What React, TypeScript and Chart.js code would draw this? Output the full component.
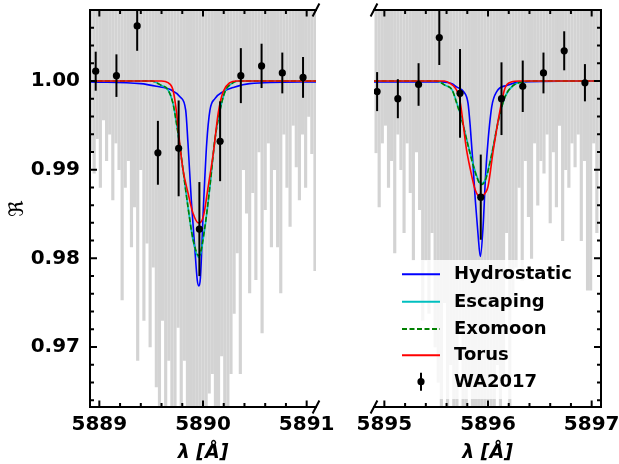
import React, { useEffect, useRef } from 'react';
import { Chart, registerables } from 'chart.js';

Chart.register(...registerables);
Chart.defaults.font.family = "'DejaVu Sans', sans-serif";
Chart.defaults.color = '#000';

// ---------- axes ----------
const Y_MIN = 0.96324;
const Y_MAX = 1.008;
const LEFT_X_MIN = 5888.91;
const LEFT_X_MAX = 5891.09;
const RIGHT_X_MIN = 5894.9;
const RIGHT_X_MAX = 5897.09;
const yTickValues = [0.97, 0.98, 0.99, 1.0];
const leftXTickValues = [5889, 5890, 5891];
const rightXTickValues = [5895, 5896, 5897];
const seriesNames = ['Hydrostatic', 'Escaping', 'Exomoon', 'Torus', 'WA2017'];

// ---------- background spectrum (gray lines: lower end of each line) ----------
const SPEC_TOP = 1.02;
const leftSpecStart = 5888.92;
const rightSpecStart = 5894.92;
const specStep = 0.03;
const leftSpecLow = [
  0.992, 0.9896, 0.9935, 0.988, 0.9956, 0.991, 0.994, 0.9866, 0.993, 0.99,
  0.9753, 0.988, 0.991, 0.9813, 0.9858, 0.9685, 0.99, 0.973, 0.9817, 0.97,
  0.979, 0.9655, 0.962, 0.973, 0.962, 0.9685, 0.962, 0.962, 0.9722, 0.962,
  0.9685, 0.962, 0.962, 0.962, 0.962, 0.962, 0.962, 0.962, 0.9648, 0.967,
  0.962, 0.962, 0.969, 0.962, 0.962, 0.967, 0.9738, 0.9806, 0.967, 0.99,
  0.9851, 0.9761, 0.9874, 0.9776, 0.992, 0.9716, 0.9855, 0.993, 0.9813, 0.99,
  0.9813, 0.9761, 0.994, 0.988, 0.9836, 0.995, 0.9903, 0.9866, 0.994, 0.988,
  0.996, 0.9918, 0.9786,
];
const rightSpecLow = [
  0.9919, 0.9858, 0.993, 0.995, 0.988, 0.991, 0.9806, 0.994, 0.99, 0.9829,
  0.993, 0.9874, 0.9798, 0.992, 0.9855, 0.973, 0.9798, 0.9738, 0.9829, 0.97,
  0.966, 0.962, 0.975, 0.962, 0.968, 0.962, 0.962, 0.972, 0.962, 0.962,
  0.966, 0.962, 0.962, 0.962, 0.962, 0.962, 0.964, 0.962, 0.962, 0.968,
  0.962, 0.966, 0.9829, 0.962, 0.975, 0.979, 0.988, 0.9775, 0.991, 0.9847,
  0.98, 0.993, 0.986, 0.991, 0.9896, 0.994, 0.984, 0.992, 0.9858, 0.995,
  0.982, 0.99, 0.988, 0.993, 0.9903, 0.994, 0.982, 0.991, 0.9764, 0.9764,
  0.993, 0.9829, 0.99,
];

// ---------- models, left panel (D2) ----------
const leftHydroX = [5888.91, 5889.4, 5889.55, 5889.69, 5889.78, 5889.833, 5889.855, 5889.887, 5889.92, 5889.945, 5889.96, 5889.975, 5890.003, 5890.036, 5890.067, 5890.115, 5890.195, 5890.3, 5890.45, 5891.09];
const leftHydroY = [0.9999, 0.9997, 0.9994, 0.999, 0.9982, 0.9967, 0.993, 0.9866, 0.9813, 0.9775, 0.9769, 0.9778, 0.9855, 0.993, 0.9967, 0.998, 0.9988, 0.9993, 0.9997, 0.9999];
const leftEscX = [5888.91, 5889.5, 5889.598, 5889.662, 5889.71, 5889.759, 5889.807, 5889.855, 5889.903, 5889.961, 5890.02, 5890.067, 5890.115, 5890.164, 5890.212, 5890.276, 5890.35, 5891.09];
const leftEscY = [1.0, 1.0, 0.9995, 0.999, 0.9975, 0.9941, 0.99, 0.9858, 0.9821, 0.9801, 0.9836, 0.9881, 0.9934, 0.9967, 0.9988, 0.9997, 1.0, 1.0];
const leftMoonX = [5888.91, 5889.5, 5889.598, 5889.662, 5889.71, 5889.759, 5889.807, 5889.855, 5889.903, 5889.961, 5890.02, 5890.067, 5890.115, 5890.164, 5890.212, 5890.276, 5890.35, 5891.09];
const leftMoonY = [1.0, 1.0, 0.9995, 0.999, 0.9975, 0.9941, 0.99, 0.9858, 0.9822, 0.9803, 0.9837, 0.9882, 0.9934, 0.9967, 0.9988, 0.9997, 1.0, 1.0];
const leftTorusX = [5888.91, 5889.6, 5889.662, 5889.71, 5889.742, 5889.775, 5889.807, 5889.855, 5889.903, 5889.955, 5890.003, 5890.05, 5890.1, 5890.147, 5890.195, 5890.26, 5890.32, 5891.09];
const leftTorusY = [1.0, 1.0, 0.9998, 0.999, 0.9967, 0.993, 0.99, 0.9874, 0.9851, 0.984, 0.9847, 0.9881, 0.9919, 0.9964, 0.9988, 0.9998, 1.0, 1.0];

// ---------- models, right panel (D1) ----------
const rightHydroX = [5894.9, 5895.55, 5895.653, 5895.7, 5895.765, 5895.807, 5895.829, 5895.852, 5895.877, 5895.903, 5895.926, 5895.952, 5895.975, 5895.993, 5896.036, 5896.084, 5896.18, 5896.33, 5897.09];
const rightHydroY = [0.9999, 0.9999, 0.9997, 0.9993, 0.9988, 0.9975, 0.9948, 0.9911, 0.9866, 0.9828, 0.9802, 0.9835, 0.989, 0.9922, 0.9971, 0.9988, 0.9995, 0.9999, 1.0];
const rightEscX = [5894.9, 5895.5, 5895.588, 5895.653, 5895.7, 5895.749, 5895.797, 5895.845, 5895.894, 5895.93, 5895.971, 5896.036, 5896.1, 5896.164, 5896.244, 5896.34, 5896.42, 5897.09];
const rightEscY = [1.0, 1.0, 0.9995, 0.999, 0.9975, 0.9956, 0.9933, 0.9911, 0.9892, 0.9884, 0.9888, 0.9918, 0.9956, 0.9982, 0.9995, 0.9999, 1.0, 1.0];
const rightMoonX = [5894.9, 5895.5, 5895.588, 5895.653, 5895.7, 5895.749, 5895.797, 5895.845, 5895.894, 5895.93, 5895.971, 5896.036, 5896.1, 5896.164, 5896.244, 5896.34, 5896.42, 5897.09];
const rightMoonY = [1.0, 1.0, 0.9995, 0.999, 0.9974, 0.9955, 0.9932, 0.991, 0.9891, 0.9883, 0.9887, 0.9917, 0.9955, 0.9982, 0.9995, 0.9999, 1.0, 1.0];
const rightTorusX = [5894.9, 5895.58, 5895.636, 5895.684, 5895.723, 5895.756, 5895.788, 5895.83, 5895.877, 5895.93, 5895.975, 5896.0, 5896.051, 5896.116, 5896.164, 5896.229, 5896.3, 5897.09];
const rightTorusY = [1.0, 1.0, 0.9997, 0.9992, 0.9982, 0.9956, 0.9926, 0.99, 0.9877, 0.9869, 0.9874, 0.9881, 0.9922, 0.9967, 0.9992, 0.9999, 1.0, 1.0];

// ---------- observations WA2017 ----------
const leftObsX = [5888.965, 5889.165, 5889.365, 5889.565, 5889.765, 5889.965, 5890.165, 5890.365, 5890.565, 5890.765, 5890.965];
const leftObsY = [1.0011, 1.0006, 1.0062, 0.9919, 0.9924, 0.9833, 0.9932, 1.0006, 1.0017, 1.0009, 1.0004];
const leftObsErr = [0.0022, 0.0024, 0.0028, 0.0036, 0.0054, 0.0053, 0.0045, 0.0031, 0.0025, 0.0023, 0.0023];
const rightObsX = [5894.93, 5895.13, 5895.33, 5895.53, 5895.73, 5895.93, 5896.13, 5896.335, 5896.535, 5896.735, 5896.935];
const rightObsY = [0.9988, 0.998, 0.9996, 1.0049, 0.9986, 0.9869, 0.998, 0.9994, 1.0009, 1.0034, 0.9998];
const rightObsErr = [0.0022, 0.0022, 0.0024, 0.0031, 0.005, 0.0048, 0.0041, 0.0029, 0.0023, 0.0022, 0.0021];

// ---------- styles ----------
const GRAY = '#d3d3d3';
const BLUE = '#0000ff';
const CYAN = '#00bfbf';
const GREEN = '#008000';
const RED = '#ff0000';
const DASH = [5, 2.5];

const pts = (xs: number[], ys: number[]) => xs.map((x, i) => ({ x, y: ys[i] }));

type Panel = {
  side: 'left' | 'right';
  xMin: number; xMax: number; xTicks: number[];
  specStart: number; specLow: number[];
  hx: number[]; hy: number[]; ex: number[]; ey: number[];
  mx: number[]; my: number[]; tx: number[]; ty: number[];
  ox: number[]; oy: number[]; oe: number[];
  legend: boolean;
};

function lineDs(label: string, xs: number[], ys: number[], color: string, dash: number[], order: number) {
  return {
    type: 'line', label, data: pts(xs, ys), borderColor: color, backgroundColor: color,
    borderWidth: 1.6, borderDash: dash, pointRadius: 0, fill: false,
    cubicInterpolationMode: 'monotone', order,
  };
}

function framePlugin(p: Panel) {
  return {
    id: 'frame_' + p.side,
    afterDatasetsDraw(chart: any) {
      const ctx = chart.ctx;
      const a = chart.chartArea;
      const xs = chart.scales.x;
      const ys = chart.scales.y;
      // error bars
      ctx.save();
      ctx.beginPath();
      ctx.rect(a.left, a.top, a.right - a.left, a.bottom - a.top);
      ctx.clip();
      ctx.strokeStyle = '#000';
      ctx.lineWidth = 2;
      p.ox.forEach((x, i) => {
        const px = xs.getPixelForValue(x);
        ctx.beginPath();
        ctx.moveTo(px, ys.getPixelForValue(p.oy[i] + p.oe[i]));
        ctx.lineTo(px, ys.getPixelForValue(p.oy[i] - p.oe[i]));
        ctx.stroke();
      });
      ctx.restore();

      ctx.save();
      ctx.strokeStyle = '#000';
      ctx.lineWidth = 2;
      ctx.lineCap = 'square';
      ctx.beginPath();
      ctx.moveTo(a.left, a.top); ctx.lineTo(a.right, a.top);
      ctx.moveTo(a.left, a.bottom); ctx.lineTo(a.right, a.bottom);
      const sx = p.side === 'left' ? a.left : a.right;
      ctx.moveTo(sx, a.top); ctx.lineTo(sx, a.bottom);
      ctx.stroke();
      ctx.lineCap = 'butt';
      // x ticks (inside), every 0.2
      ctx.beginPath();
      for (let k = Math.ceil(p.xMin * 5 - 1e-9); k <= Math.floor(p.xMax * 5 + 1e-9); k++) {
        const px = xs.getPixelForValue(k / 5);
        const len = k % 5 === 0 ? 6.5 : 4;
        ctx.moveTo(px, a.bottom); ctx.lineTo(px, a.bottom - len);
        ctx.moveTo(px, a.top); ctx.lineTo(px, a.top + len);
      }
      // y ticks (inside), every 0.002
      const dir = p.side === 'left' ? 1 : -1;
      for (let k = Math.ceil(Y_MIN * 500 - 1e-9); k <= Math.floor(Y_MAX * 500 + 1e-9); k++) {
        const py = ys.getPixelForValue(k / 500);
        const len = k % 5 === 0 ? 7 : 4;
        ctx.moveTo(sx, py); ctx.lineTo(sx + dir * len, py);
      }
      ctx.stroke();
      // break marks
      const bx = p.side === 'left' ? a.right : a.left;
      ctx.beginPath();
      [a.top, a.bottom].forEach((by: number) => {
        ctx.moveTo(bx - 3.4, by + 6.5);
        ctx.lineTo(bx + 3.4, by - 6.5);
      });
      ctx.stroke();
      ctx.restore();

      if (p.legend) {
        const off = 330;
        ctx.save();
        ctx.fillStyle = 'rgba(255,255,255,0.8)';
        ctx.beginPath();
        const bx0 = 393 - off, by0 = 260, bw = 192, bh = 139;
        ctx.moveTo(bx0 + 4, by0);
        ctx.arcTo(bx0 + bw, by0, bx0 + bw, by0 + bh, 4);
        ctx.arcTo(bx0 + bw, by0 + bh, bx0, by0 + bh, 4);
        ctx.arcTo(bx0, by0 + bh, bx0, by0, 4);
        ctx.arcTo(bx0, by0, bx0 + bw, by0, 4);
        ctx.closePath();
        ctx.fill();
        const rows = [274.3, 301.7, 329, 355.3, 381.7];
        const dss = chart.data.datasets;
        const hx0 = 402 - off, hx1 = 440 - off, tx = 454 - off;
        ctx.font = "bold 18px 'DejaVu Sans'";
        ctx.textBaseline = 'middle';
        ctx.textAlign = 'left';
        for (let i = 0; i < 5; i++) {
          const ds = dss[i + 1];
          const y = rows[i];
          if (i < 4) {
            ctx.strokeStyle = ds.borderColor;
            ctx.lineWidth = 2;
            ctx.setLineDash(ds.borderDash || []);
            ctx.beginPath();
            ctx.moveTo(hx0, y); ctx.lineTo(hx1, y);
            ctx.stroke();
            ctx.setLineDash([]);
          } else {
            const cx = (hx0 + hx1) / 2;
            ctx.strokeStyle = '#000';
            ctx.lineWidth = 2;
            ctx.beginPath();
            ctx.moveTo(cx, y - 9); ctx.lineTo(cx, y + 9);
            ctx.stroke();
            ctx.fillStyle = '#000';
            ctx.beginPath();
            ctx.arc(cx, y, 3.6, 0, Math.PI * 2);
            ctx.fill();
          }
          ctx.fillStyle = '#000';
          ctx.fillText(ds.label, tx, y + 0.5);
        }
        ctx.restore();
      }
    },
  };
}

function makeConfig(p: Panel): any {
  const specData = p.specLow.map((low, i) => ({ x: +(p.specStart + i * specStep).toFixed(3), y: [low, SPEC_TOP] }));
  const isLeft = p.side === 'left';
  return {
    type: 'line',
    data: {
      datasets: [
        { type: 'bar', label: 'spectrum', data: specData, backgroundColor: GRAY, borderWidth: 0, barThickness: 2.5, order: 10 },
        lineDs(seriesNames[0], p.hx, p.hy, BLUE, [], 5),
        lineDs(seriesNames[1], p.ex, p.ey, CYAN, [], 4),
        lineDs(seriesNames[2], p.mx, p.my, GREEN, DASH, 3),
        lineDs(seriesNames[3], p.tx, p.ty, RED, [], 2),
        {
          type: 'line', label: seriesNames[4], data: pts(p.ox, p.oy), showLine: false,
          pointRadius: 3.6, pointBackgroundColor: '#000', pointBorderWidth: 0, borderColor: '#000', order: 0,
        },
      ],
    },
    options: {
      animation: false,
      responsive: false,
      events: [],
      layout: { padding: isLeft ? { left: 6, right: 29, top: 10, bottom: 0 } : { left: 44, right: 18, top: 10, bottom: 0 } },
      plugins: { legend: { display: false }, tooltip: { enabled: false } },
      scales: {
        x: {
          type: 'linear', min: p.xMin, max: p.xMax, offset: false,
          grid: { display: false, drawTicks: false },
          border: { display: false },
          afterBuildTicks: (s: any) => { s.ticks = p.xTicks.map((v) => ({ value: v })); },
          ticks: {
            font: { size: 20, weight: 'bold' }, color: '#000', padding: 6,
            maxRotation: 0, autoSkip: false, callback: (v: any) => String(v),
          },
          title: {
            display: true, text: 'λ [Å]', color: '#000',
            font: { size: 19, weight: 'bold', style: 'italic', lineHeight: 1.2 }, padding: { top: 0, bottom: 0 },
          },
          afterFit: (s: any) => { s.height = 57; s.paddingLeft = 0; s.paddingRight = 0; },
        },
        y: {
          type: 'linear', min: Y_MIN, max: Y_MAX, position: isLeft ? 'left' : 'right',
          grid: { display: false, drawTicks: false },
          border: { display: false },
          afterBuildTicks: (s: any) => { s.ticks = yTickValues.map((v) => ({ value: v })); },
          ticks: {
            display: isLeft, font: { size: 20, weight: 'bold' }, color: '#000', padding: 10,
            callback: (v: any) => Number(v).toFixed(2),
          },
          title: {
            display: isLeft, text: 'ℜ', color: '#000', font: { size: 20, lineHeight: 1.2 }, padding: { top: 0, bottom: 0 },
          },
          afterFit: (s: any) => { s.width = isLeft ? 84 : 0; s.paddingTop = 0; s.paddingBottom = 0; },
        },
      },
    },
    plugins: [framePlugin(p)],
  };
}

const leftPanel: Panel = {
  side: 'left', xMin: LEFT_X_MIN, xMax: LEFT_X_MAX, xTicks: leftXTickValues,
  specStart: leftSpecStart, specLow: leftSpecLow,
  hx: leftHydroX, hy: leftHydroY, ex: leftEscX, ey: leftEscY,
  mx: leftMoonX, my: leftMoonY, tx: leftTorusX, ty: leftTorusY,
  ox: leftObsX, oy: leftObsY, oe: leftObsErr, legend: false,
};
const rightPanel: Panel = {
  side: 'right', xMin: RIGHT_X_MIN, xMax: RIGHT_X_MAX, xTicks: rightXTickValues,
  specStart: rightSpecStart, specLow: rightSpecLow,
  hx: rightHydroX, hy: rightHydroY, ex: rightEscX, ey: rightEscY,
  mx: rightMoonX, my: rightMoonY, tx: rightTorusX, ty: rightTorusY,
  ox: rightObsX, oy: rightObsY, oe: rightObsErr, legend: true,
};

export default function App() {
  const leftRef = useRef<HTMLCanvasElement>(null);
  const rightRef = useRef<HTMLCanvasElement>(null);
  useEffect(() => {
    const c1 = new Chart(leftRef.current as HTMLCanvasElement, makeConfig(leftPanel));
    const c2 = new Chart(rightRef.current as HTMLCanvasElement, makeConfig(rightPanel));
    return () => { c1.destroy(); c2.destroy(); };
  }, []);
  return (
    <div style={{ position: 'fixed', left: 0, top: 0, width: 619, height: 464, background: '#fff' }}>
      <canvas ref={leftRef} width={345} height={464}
        style={{ position: 'absolute', left: 0, top: 0, width: 345, height: 464 }} />
      <canvas ref={rightRef} width={289} height={464}
        style={{ position: 'absolute', left: 330, top: 0, width: 289, height: 464 }} />
    </div>
  );
}
